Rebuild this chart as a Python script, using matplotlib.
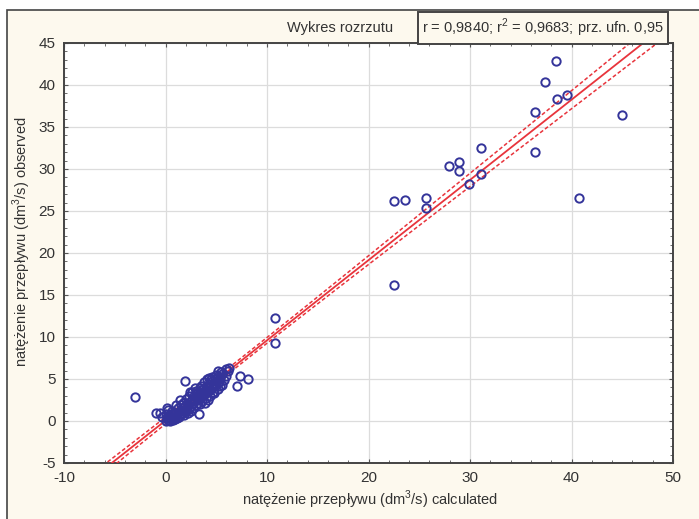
import numpy as np
import matplotlib
matplotlib.use('Agg')
import matplotlib.pyplot as plt
from matplotlib.ticker import MultipleLocator
from matplotlib.patches import Rectangle

plt.rcParams['font.family'] = ['Liberation Sans', 'DejaVu Sans']
plt.rcParams['axes.unicode_minus'] = False
plt.rcParams['mathtext.fontset'] = 'custom'
plt.rcParams['mathtext.rm'] = 'Liberation Sans'

# values: (calculated, observed)
calc_big = [38.5, 37.4, 38.6, 39.6, 36.4, 45.0, 31.1, 36.4, 27.9, 28.9, 28.9, 31.1,
            29.9, 22.5, 23.6, 25.7, 25.7, 40.7, 22.5, 10.8, 10.8]
obs_big = [42.9, 40.3, 38.3, 38.8, 36.8, 36.4, 32.5, 32.0, 30.4, 30.8, 29.8, 29.4,
           28.2, 26.2, 26.3, 26.6, 25.3, 26.5, 16.2, 12.3, 9.3]

calc_small = [-3.0, -0.9, -0.5, 0.1, 1.9, 3.3, 7.0, 7.3, 8.1, 6.0, 5.2,
              0.0, 0.2, 0.3, 0.4, 0.5, 0.6, 0.7, 0.8, 0.9, 1.0, 0.3, 0.1, 0.5, 0.2, 0.8,
              1.1, 1.2, 1.3, 1.4, 1.5, 1.6, 1.7, 1.8, 1.9, 2.0, 2.1, 2.2, 2.3, 2.4, 2.5,
              2.6, 2.7, 2.8, 2.9, 3.0, 3.1, 3.2, 3.3, 3.4, 3.5, 3.6, 3.7, 3.8, 3.9, 4.0,
              4.1, 4.2, 4.3, 4.4, 4.5, 4.6, 4.7, 4.8, 4.9, 5.0, 5.1, 5.2, 5.3, 5.4, 5.6,
              5.8, 6.0, 4.1, 4.3, 4.5, 3.8, 3.5, 3.0, 2.6, 2.3, 2.0, 1.7, 1.5, 1.2, 3.2,
              3.6, 4.0, 4.4, 4.8, 5.2, 5.4, 2.7, 3.0, 3.4, 1.8, 2.2, 2.5, 0.0, -0.3, 0.6,
              4.6, 5.0, 5.5, 6.2, 6.3, 5.6, 4.2, 3.9, 3.4, 1.0, 1.4, 2.4, 2.9, 4.7]
obs_small = [2.8, 1.0, 1.0, 1.6, 4.8, 0.8, 4.2, 5.3, 5.0, 6.2, 5.9,
             0.0, 0.1, 0.3, 0.0, 0.2, 0.5, 0.1, 0.4, 0.2, 0.6, 0.7, 0.4, 0.8, 1.3, 1.0,
             0.3, 0.9, 0.5, 1.2, 0.8, 1.5, 1.0, 1.3, 1.8, 1.2, 1.6, 2.0, 1.4, 2.3, 1.8,
             2.6, 2.1, 3.0, 2.4, 2.8, 3.3, 2.6, 3.0, 3.5, 2.9, 3.2, 3.8, 3.1, 3.6, 4.1,
             3.4, 3.9, 4.4, 3.7, 4.2, 4.8, 4.0, 4.5, 5.0, 4.3, 4.8, 5.3, 4.6, 5.1, 5.6,
             4.9, 5.4, 5.0, 5.1, 5.0, 4.6, 4.2, 3.6, 3.4, 3.0, 2.6, 2.2, 1.9, 1.6, 2.2,
             2.4, 2.7, 3.0, 3.3, 3.8, 4.2, 1.5, 1.9, 2.0, 0.7, 1.0, 1.2, 0.8, 0.5, 1.2,
             5.2, 5.5, 5.8, 6.0, 6.3, 4.3, 2.5, 2.2, 3.9, 1.9, 2.5, 3.4, 3.9, 3.5]

x_ticks = [-10, 0, 10, 20, 30, 40, 50]
y_ticks = [-5, 0, 5, 10, 15, 20, 25, 30, 35, 40, 45]

x = np.array(calc_big + calc_small)
y = np.array(obs_big + obs_small)

# linear fit and 95% confidence band for the mean
n = len(x)
b, a = np.polyfit(x, y, 1)
resid = y - (a + b * x)
s = np.sqrt(np.sum(resid ** 2) / (n - 2))
sxx = np.sum((x - x.mean()) ** 2)
t95 = 1.98
xs = np.linspace(-10, 50, 300)
ys = a + b * xs
half = t95 * s * np.sqrt(1.0 / n + (xs - x.mean()) ** 2 / sxx)

fig = plt.figure(figsize=(6.99, 5.19), dpi=100)
fig.patch.set_facecolor('white')
fig.patches.append(Rectangle((7 / 699, -0.1), 1.0, 1 - 10 / 519 + 0.1, transform=fig.transFigure,
                             facecolor='#fdf9ee', edgecolor='#444444', linewidth=1.2, zorder=-10))

ax = fig.add_axes([64 / 699, 1 - 463 / 519, (673 - 64) / 699, (463 - 43) / 519])
ax.set_facecolor('white')

red = '#e8343c'
ax.plot(xs, ys, color=red, lw=1.3, zorder=3)
ax.plot(xs, ys + half, color=red, lw=1.1, ls=(0, (2.5, 1.5)), zorder=3)
ax.plot(xs, ys - half, color=red, lw=1.1, ls=(0, (2.5, 1.5)), zorder=3)
ax.plot(x, y, 'o', mfc='none', mec='#34349a', mew=1.4, ms=6, zorder=4)

ax.set_xlim(-10, 50)
ax.set_ylim(-5, 45)
ax.set_xticks(x_ticks)
ax.set_yticks(y_ticks)
ax.xaxis.set_minor_locator(MultipleLocator(2))
ax.yaxis.set_minor_locator(MultipleLocator(1))
ax.tick_params(which='both', direction='in', top=True, right=True, colors='#555555',
               labelcolor='#333333', labelsize=11)
ax.tick_params(which='major', length=3, pad=6)
ax.tick_params(which='minor', length=2)
ax.grid(True, color='#dcdcdc', lw=0.9)
ax.set_axisbelow(True)
for sp in ax.spines.values():
    sp.set_color('#444444')
    sp.set_linewidth(1.4)

# axis titles placed where they sit in the picture
fig.text(370 / 699, 1 - 500 / 519, 'natężenie przepływu (dm$^3$/s) calculated', fontsize=10.5,
         color='#333333', ha='center', va='center')
fig.text(22 / 699, 1 - 242 / 519, 'natężenie przepływu (dm$^3$/s) observed', fontsize=10.5,
         color='#333333', ha='center', va='center', rotation=90)

fig.text(340 / 699, 1 - 28 / 519, 'Wykres rozrzutu', fontsize=10.5, color='#333333',
         ha='center', va='center')
fig.text(543 / 699, 1 - 28 / 519, 'r = 0,9840; r$^2$ = 0,9683; prz. ufn. 0,95', fontsize=10.5,
         color='#333333', ha='center', va='center',
         bbox=dict(boxstyle='square,pad=0.3', fc='#fdf9ee', ec='#444444', lw=1.4))

fig.savefig('out.png', dpi=100, facecolor=fig.get_facecolor())
